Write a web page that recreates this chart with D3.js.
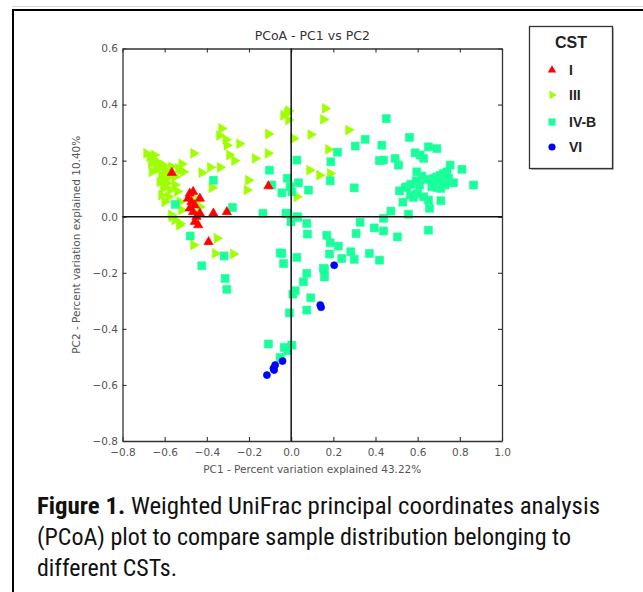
<!DOCTYPE html>
<html>
<head>
<meta charset="utf-8">
<script src="https://cdn.jsdelivr.net/npm/d3@7"></script>
<style>
  html, body { margin: 0; padding: 0; background: #fff; }
  svg { display: block; }
</style>
</head>
<body>
<svg id="chart" width="643" height="592"></svg>
<script>
// ---------- data ----------
const categories = ["I", "III", "IV-B", "VI"];
const colors = ["#ff0000", "#9fff00", "#1aff9c", "#0000ff"];

const xTicks = [-0.8, -0.6, -0.4, -0.2, 0.0, 0.2, 0.4, 0.6, 0.8, 1.0];
const yTicks = [-0.8, -0.6, -0.4, -0.2, 0.0, 0.2, 0.4, 0.6];

const titleText = "PCoA - PC1 vs PC2";
const xLabel = "PC1 - Percent variation explained 43.22%";
const yLabel = "PC2 - Percent variation explained 10.40%";
const legendTitle = "CST";

// CST I (red, triangle up)
const cstI_x = [-0.566, -0.108, -0.481, -0.465, -0.489, -0.473, -0.457, -0.481, -0.465, -0.433, -0.449, -0.457, -0.441, -0.433, -0.369, -0.305, -0.392];
const cstI_y = [0.157, 0.109, 0.083, 0.089, 0.065, 0.053, 0.041, 0.030, 0.017, 0.012, 0.000, -0.018, -0.030, 0.065, 0.012, 0.017, -0.090];

// CST III (yellow-green, triangle right)
const cstIII_x = [-0.020, -0.013, -0.036, -0.013, 0.161, 0.153, 0.272, 0.093, 0.011, 0.177, 0.087, 0.134, 0.185, 0.027,
  -0.330, -0.340, -0.310, -0.305, -0.245, -0.108, -0.463, -0.293, -0.269, -0.171, -0.110,
  -0.384, -0.337, -0.424, -0.203, -0.210, -0.376, -0.519, -0.527,
  -0.686, -0.671, -0.655, -0.639, -0.623, -0.607, -0.663, -0.631, -0.600, -0.568, -0.536, -0.512,
  -0.615, -0.583, -0.552, -0.623, -0.591, -0.552, -0.607, -0.575, -0.615, -0.583, -0.600, -0.528,
  -0.520, -0.568, -0.552, -0.528, -0.566, -0.530, -0.455, -0.441, -0.433,
  -0.650, -0.640, -0.580, -0.660, -0.600, -0.540,
  -0.463, -0.352, -0.360, -0.274];
const cstIII_y = [0.370, 0.378, 0.362, 0.345, 0.386, 0.347, 0.309, 0.293, 0.279, 0.240, 0.166, 0.148, 0.154, 0.071,
  0.315, 0.290, 0.275, 0.255, 0.260, 0.295, 0.226, 0.220, 0.200, 0.208, 0.226,
  0.176, 0.176, 0.157, 0.130, 0.095, 0.103, 0.188, 0.166,
  0.226, 0.214, 0.205, 0.196, 0.190, 0.184, 0.190, 0.172, 0.166, 0.178, 0.172, 0.160,
  0.148, 0.142, 0.142, 0.124, 0.119, 0.113, 0.101, 0.095, 0.077, 0.071, 0.053, 0.053,
  0.024, 0.006, -0.012, -0.024, 0.000, -0.030, 0.053, 0.059, 0.035,
  0.220, 0.180, 0.160, 0.160, 0.130, 0.090,
  -0.101, -0.077, -0.131, -0.133];

// CST IV-B (mint, square)
const cstIVB_x = [0.451, 0.351, 0.304, 0.430, 0.561, 0.651, 0.691, 0.588, 0.612, 0.628,
  0.220, 0.027, 0.188, 0.419, 0.438, 0.493, 0.509, 0.754, 0.810, 0.596,
  0.675, 0.691, 0.707, 0.723, 0.739, 0.683, 0.703, 0.723, 0.746, 0.770, 0.691, 0.710, 0.667, 0.730, 0.644, 0.620, 0.593, 0.568, 0.549, 0.609,
  0.865, -0.018, 0.035, 0.185, 0.082, -0.005, 0.003, -0.044, 0.299, 0.514, 0.541,
  0.565, 0.580, 0.599, 0.628, 0.651, 0.530, 0.656, 0.710, 0.473, 0.556, 0.438,
  -0.020, 0.027, -0.001, 0.074, 0.327, 0.394, 0.438, 0.308, 0.077, 0.651, 0.504, 0.169, 0.185, 0.224, 0.283, 0.371, 0.182, 0.240, 0.299, 0.419, -0.044, 0.027, -0.036, 0.153,
  -0.103, -0.369, -0.092, -0.550, -0.278, -0.134, -0.025, 0.032, -0.479, -0.318, -0.424, -0.052,
  -0.313, -0.305, 0.074, 0.058, 0.019, 0.008, 0.093, 0.074, -0.008, 0.158, 0.158,
  -0.108, -0.033, -0.018, 0.003, -0.052];
const cstIVB_y = [0.350, 0.276, 0.252, 0.255, 0.283, 0.249, 0.243, 0.228, 0.220, 0.208,
  0.230, 0.202, 0.196, 0.200, 0.202, 0.208, 0.184, 0.184, 0.169, 0.160,
  0.137, 0.142, 0.148, 0.154, 0.160, 0.119, 0.124, 0.130, 0.137, 0.121, 0.104, 0.101, 0.107, 0.113, 0.133, 0.145, 0.128, 0.116, 0.107, 0.113,
  0.113, 0.137, 0.121, 0.128, 0.095, 0.107, 0.089, 0.085, 0.103, 0.092, 0.104,
  0.077, 0.069, 0.083, 0.071, 0.059, 0.052, 0.030, 0.057, 0.020, 0.009, -0.006,
  0.012, 0.000, -0.018, -0.024, -0.020, -0.040, -0.051, -0.060, -0.062, -0.048, -0.072, -0.066, -0.093, -0.105, -0.125, -0.131, -0.133, -0.149, -0.152, -0.155, -0.131, -0.145, -0.167, -0.184,
  0.166, 0.130, 0.113, 0.044, 0.033, 0.012, 0.012, -0.002, -0.069, -0.140, -0.175, -0.129,
  -0.220, -0.259, -0.202, -0.232, -0.264, -0.276, -0.289, -0.333, -0.343, -0.187, -0.215,
  -0.454, -0.466, -0.478, -0.458, -0.502];

// CST VI (blue, circle)
const cstVI_x = [0.204, 0.138, 0.142, -0.041, -0.076, -0.084, -0.081, -0.115];
const cstVI_y = [-0.173, -0.315, -0.323, -0.515, -0.529, -0.541, -0.547, -0.565];

const captionBold = "Figure 1.";
const captionLines = [
  " Weighted UniFrac principal coordinates analysis",
  "(PCoA) plot to compare sample distribution belonging to",
  "different CSTs."
];

// ---------- drawing ----------
const svg = d3.select("#chart");

// outer frame
svg.append("line").attr("x1", 12).attr("x2", 643).attr("y1", 6.5).attr("y2", 6.5)
  .attr("stroke", "#d8d8d8").attr("stroke-width", 1);
svg.append("line").attr("x1", 12).attr("x2", 643).attr("y1", 10).attr("y2", 10)
  .attr("stroke", "#000").attr("stroke-width", 2);
svg.append("line").attr("x1", 13).attr("x2", 13).attr("y1", 9).attr("y2", 592)
  .attr("stroke", "#000").attr("stroke-width", 2);

const x = d3.scaleLinear().domain([-0.8, 1.0]).range([122.5, 502]);
const y = d3.scaleLinear().domain([-0.8, 0.6]).range([441, 48.5]);

const fmt = d3.format(".1f");
const axisColor = "#333";
const labelColor = "#555";

function styleAxis(g, showLabels) {
  g.select(".domain").attr("stroke", axisColor).attr("stroke-width", 1.3);
  g.selectAll(".tick line").attr("stroke", axisColor).attr("stroke-width", 1.1);
  g.selectAll(".tick text")
    .attr("fill", labelColor)
    .attr("font-family", "'DejaVu Sans', sans-serif")
    .attr("font-size", 10.5)
    .style("display", showLabels ? null : "none");
}

const gBottom = svg.append("g").attr("transform", `translate(0,${y(-0.8)})`)
  .call(d3.axisBottom(x).tickValues(xTicks).tickFormat(fmt).tickSizeInner(-4).tickSizeOuter(0).tickPadding(8));
styleAxis(gBottom, true);

const gTop = svg.append("g").attr("transform", `translate(0,${y(0.6)})`)
  .call(d3.axisTop(x).tickValues(xTicks).tickFormat(fmt).tickSizeInner(-4).tickSizeOuter(0));
styleAxis(gTop, false);

const gLeft = svg.append("g").attr("transform", `translate(${x(-0.8)},0)`)
  .call(d3.axisLeft(y).tickValues(yTicks).tickFormat(fmt).tickSizeInner(-4).tickSizeOuter(0).tickPadding(4.5));
styleAxis(gLeft, true);

const gRight = svg.append("g").attr("transform", `translate(${x(1.0)},0)`)
  .call(d3.axisRight(y).tickValues(yTicks).tickFormat(fmt).tickSizeInner(-4).tickSizeOuter(0));
styleAxis(gRight, false);

// title and axis labels
svg.append("text").attr("x", (x(-0.8) + x(1.0)) / 2).attr("y", 40)
  .attr("text-anchor", "middle").attr("font-family", "'DejaVu Sans', sans-serif")
  .attr("font-size", 12.5).attr("fill", "#333").text(titleText);

svg.append("text").attr("x", (x(-0.8) + x(1.0)) / 2).attr("y", 473)
  .attr("text-anchor", "middle").attr("font-family", "'DejaVu Sans', sans-serif")
  .attr("font-size", 10.5).attr("fill", labelColor).text(xLabel);

svg.append("text").attr("transform", `translate(80,${(y(-0.8) + y(0.6)) / 2}) rotate(-90)`)
  .attr("text-anchor", "middle").attr("font-family", "'DejaVu Sans', sans-serif")
  .attr("font-size", 10.5).attr("fill", labelColor).text(yLabel);

// points
const sym = [
  { type: d3.symbolTriangle, size: 38, rot: 0 },
  { type: d3.symbolTriangle, size: 42, rot: 90 },
  { type: d3.symbolSquare, size: 64, rot: 0 },
  { type: d3.symbolCircle, size: 40, rot: 0 }
];
const seriesX = [cstI_x, cstIII_x, cstIVB_x, cstVI_x];
const seriesY = [cstI_y, cstIII_y, cstIVB_y, cstVI_y];
const drawOrder = [1, 2, 0, 3];

const gPts = svg.append("g");
drawOrder.forEach(i => {
  const pts = seriesX[i].map((v, k) => [v, seriesY[i][k]]);
  const path = d3.symbol().type(sym[i].type).size(sym[i].size)();
  gPts.append("g").selectAll("path").data(pts).join("path")
    .attr("d", path)
    .attr("transform", d => `translate(${x(d[0])},${y(d[1])}) rotate(${sym[i].rot})`)
    .attr("fill", colors[i])
    .attr("stroke", colors[i])
    .attr("stroke-width", 0.6);
});

// zero lines
svg.append("line").attr("x1", x(0)).attr("x2", x(0)).attr("y1", y(0.6)).attr("y2", y(-0.8))
  .attr("stroke", "#111").attr("stroke-width", 1.5);
svg.append("line").attr("x1", x(-0.8)).attr("x2", x(1.0)).attr("y1", y(0)).attr("y2", y(0))
  .attr("stroke", "#111").attr("stroke-width", 1.5);

// legend
const lg = svg.append("g");
lg.append("rect").attr("x", 531).attr("y", 28).attr("width", 83).attr("height", 142)
  .attr("fill", "#bbb");
lg.append("rect").attr("x", 529.5).attr("y", 26.5).attr("width", 83).attr("height", 142)
  .attr("fill", "#fff").attr("stroke", "#333").attr("stroke-width", 1.3);
lg.append("text").attr("x", 571).attr("y", 48).attr("text-anchor", "middle")
  .attr("font-family", "'Liberation Sans', Arial, sans-serif").attr("font-weight", "bold")
  .attr("font-size", 16).attr("fill", "#222").text(legendTitle);
const legY = [70, 95, 122, 147];
const legSym = [
  { type: d3.symbolTriangle, size: 30, rot: 0 },
  { type: d3.symbolTriangle, size: 32, rot: 90 },
  { type: d3.symbolSquare, size: 50, rot: 0 },
  { type: d3.symbolCircle, size: 40, rot: 0 }
];
categories.forEach((c, i) => {
  lg.append("path").attr("d", d3.symbol().type(legSym[i].type).size(legSym[i].size)())
    .attr("transform", `translate(552,${legY[i]}) rotate(${legSym[i].rot})`)
    .attr("fill", colors[i]);
  lg.append("text").attr("x", 569).attr("y", legY[i] + 5)
    .attr("font-family", "'Liberation Sans', Arial, sans-serif").attr("font-weight", "bold")
    .attr("font-size", 14).attr("fill", "#222").text(c);
});

// caption
const capFont = "'Liberation Sans Narrow', 'Roboto Condensed', 'Liberation Sans', Arial, sans-serif";
const capBase = [514, 545, 576];
const capWidths = [563, 534, 140];
captionLines.forEach((line, i) => {
  const t = svg.append("text").attr("x", 37).attr("y", capBase[i])
    .attr("font-family", capFont).attr("font-size", 23).attr("fill", "#111")
    .attr("textLength", capWidths[i]).attr("lengthAdjust", "spacingAndGlyphs");
  if (i === 0) t.append("tspan").attr("font-weight", "bold").text(captionBold);
  t.append("tspan").text(line);
});
</script>
</body>
</html>
